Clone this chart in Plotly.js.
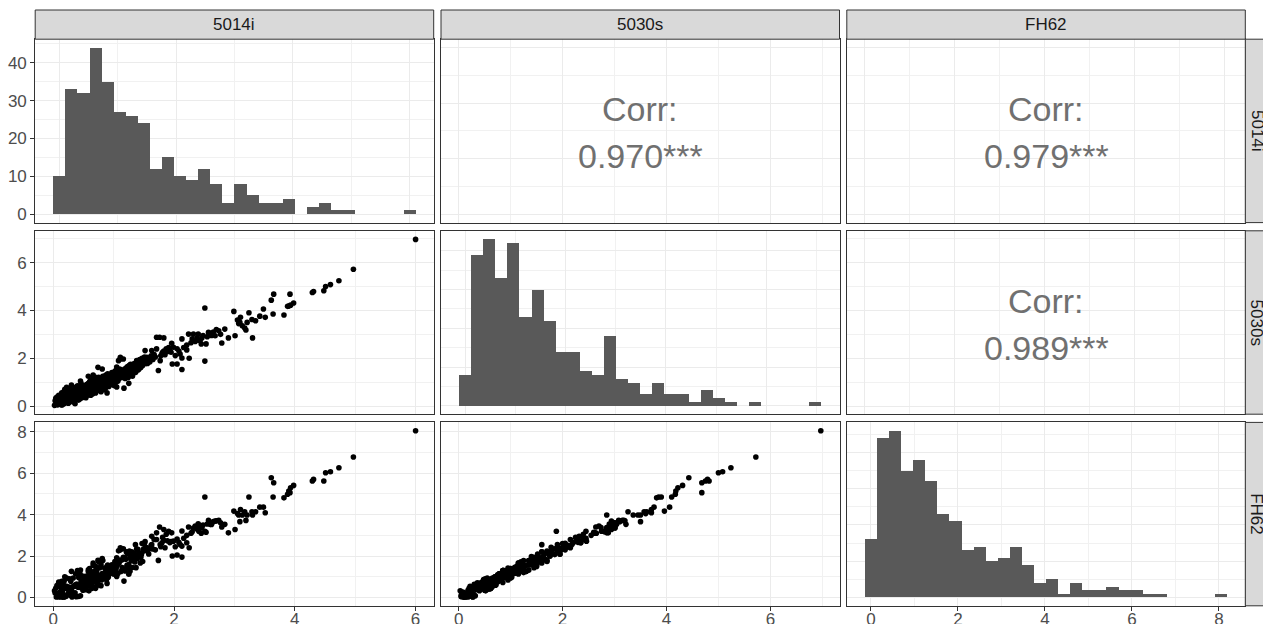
<!DOCTYPE html>
<html><head><meta charset="utf-8">
<script src="https://cdn.plot.ly/plotly-3.0.1.min.js"></script>
<style>html,body{margin:0;padding:0;background:#fff;overflow:hidden}#chart{width:1263px;height:624px}</style>
</head><body><div id="chart"></div>
<script>
// ---------------- data ----------------
const varNames = ['5014i', '5030s', 'FH62'];

const v5014i = [
 0.02,0.03,0.05,0.06,0.07,0.08,0.09,0.10,0.04,0.08,
 0.11,0.12,0.12,0.13,0.14,0.15,0.15,0.16,0.17,0.18,0.18,0.19,0.20,0.20,0.21,0.22,0.22,0.23,0.24,0.24,0.25,0.26,0.26,0.27,0.28,0.28,0.29,0.29,0.30,0.30,0.31,0.13,0.17,
 0.32,0.33,0.33,0.34,0.35,0.35,0.36,0.37,0.38,0.38,0.39,0.40,0.40,0.41,0.42,0.42,0.43,0.44,0.44,0.45,0.46,0.46,0.47,0.48,0.48,0.49,0.50,0.50,0.51,0.52,0.36,0.45,
 0.52,0.53,0.53,0.54,0.55,0.55,0.56,0.56,0.57,0.58,0.58,0.59,0.59,0.60,0.60,0.61,0.61,0.62,0.62,0.63,0.63,0.64,0.64,0.65,0.65,0.66,0.66,0.67,0.67,0.68,0.68,0.69,0.69,0.70,0.70,0.71,0.71,0.72,0.54,0.58,0.62,0.66,0.70,0.60,
 0.73,0.73,0.74,0.75,0.75,0.76,0.77,0.77,0.78,0.79,0.79,0.80,0.80,0.81,0.82,0.82,0.83,0.84,0.84,0.85,0.86,0.86,0.87,0.88,0.88,0.89,0.90,0.90,0.91,0.92,0.92,0.93,0.74,0.81,0.89,
 0.94,0.95,0.96,0.96,0.97,0.98,0.99,1.00,1.00,1.01,1.02,1.03,1.04,1.04,1.05,1.06,1.07,1.08,1.08,1.09,1.10,1.11,1.12,1.13,1.14,1.05,1.11,
 1.15,1.16,1.17,1.17,1.18,1.19,1.20,1.21,1.22,1.22,1.23,1.24,1.25,1.26,1.27,1.27,1.28,1.29,1.30,1.31,1.32,1.33,1.34,1.16,1.25,1.33,
 1.35,1.36,1.37,1.38,1.39,1.40,1.41,1.42,1.43,1.44,1.45,1.46,1.47,1.48,1.49,1.50,1.51,1.52,1.53,1.54,1.55,1.36,1.44,1.52,
 1.56,1.58,1.60,1.62,1.63,1.63,1.65,1.67,1.69,1.71,1.71,1.74,
 1.76,1.77,1.78,1.80,1.81,1.83,1.83,1.85,1.87,1.89,1.91,1.93,1.95,1.96,1.97,
 1.99,2.02,2.05,2.05,2.08,2.10,2.13,2.13,2.13,2.16,
 2.21,2.21,2.24,2.25,2.28,2.30,2.32,2.35,2.38,
 2.40,2.41,2.43,2.45,2.46,2.48,2.51,2.51,2.53,2.55,2.57,2.58,
 2.60,2.62,2.65,2.68,2.70,2.74,2.77,2.79,
 2.84,2.90,2.99,
 3.01,3.05,3.07,3.09,3.10,3.13,3.17,3.19,
 3.21,3.24,3.29,3.30,3.35,
 3.42,3.48,3.51,3.61,
 3.64,3.65,3.82,
 3.88,3.90,3.92,3.93,3.98,
 4.29,4.31,
 4.48,4.51,4.59,
 4.73,
 4.97,
 6.00
];

const v5030s = [
 0.03,0.22,0.10,0.38,0.05,0.28,0.45,0.15,0.32,0.12,
 0.08,0.30,0.45,0.12,0.55,0.25,0.05,0.40,0.18,0.62,0.10,0.70,0.22,0.42,0.15,0.35,0.78,0.48,0.20,0.58,0.12,0.45,0.28,0.52,0.75,0.30,0.18,0.65,0.40,0.88,0.27,0.05,0.20,
 0.30,0.55,0.22,0.65,0.38,0.15,0.58,0.78,0.28,0.48,0.62,0.35,0.85,0.45,0.25,0.70,0.40,0.55,0.80,0.32,0.60,0.95,0.44,0.36,0.72,0.50,0.42,0.85,0.60,0.48,0.10,1.05,
 0.60,0.42,0.80,0.65,0.50,0.90,0.70,0.45,0.85,0.58,0.95,0.52,0.75,0.88,0.60,0.48,1.05,0.72,0.92,0.55,1.10,0.78,0.62,0.95,0.50,0.85,1.15,0.68,1.00,0.58,1.05,0.75,0.90,0.62,1.20,0.95,0.70,0.85,0.35,1.25,0.45,1.30,0.55,1.00,
 0.85,0.65,1.00,0.75,1.20,0.90,0.70,1.10,0.82,0.60,1.15,0.95,0.72,1.05,0.78,1.25,0.88,1.00,0.68,1.18,0.92,0.75,1.30,0.98,0.80,1.12,0.86,1.35,1.02,0.82,1.20,1.05,1.62,1.55,0.55,
 1.10,0.90,1.25,1.00,1.40,1.08,0.95,1.35,1.15,0.85,1.45,1.20,1.00,1.50,1.63,1.25,1.05,1.90,1.35,1.15,1.55,2.04,1.25,1.40,1.20,0.80,1.97,
 1.25,1.45,0.75,1.35,1.55,1.15,1.40,1.60,1.25,1.50,1.65,1.20,1.45,1.70,1.30,1.55,1.75,1.35,1.60,1.25,1.70,1.45,1.78,1.97,0.95,1.49,
 1.55,1.60,1.45,1.90,1.65,1.80,1.52,1.75,1.95,1.69,1.62,1.85,2.00,1.70,1.88,1.95,2.05,2.32,1.78,2.00,2.04,1.40,1.60,1.90,
 1.78,1.95,1.85,2.10,2.32,2.04,1.95,2.15,2.05,2.88,2.39,1.49,
 2.88,1.90,2.10,2.20,2.25,2.85,2.30,2.15,2.40,2.28,2.45,2.35,2.25,2.63,1.76,
 2.46,2.11,1.76,2.40,2.30,2.18,2.81,2.01,1.53,2.45,
 2.35,2.55,3.01,2.00,2.65,2.81,3.01,2.70,2.85,
 3.01,2.75,2.74,2.60,2.85,2.95,4.10,1.88,2.60,2.90,3.08,3.00,
 3.04,2.95,3.10,2.94,3.20,3.15,3.00,2.64,
 3.22,2.85,3.96,
 2.94,3.60,3.45,3.50,3.71,3.36,3.26,3.18,
 3.50,3.90,3.62,2.85,3.57,
 3.76,4.06,3.71,4.43,
 3.85,4.68,3.81,
 4.17,4.18,4.68,4.22,4.31,
 4.75,4.79,
 4.82,5.00,5.08,
 5.24,
 5.72,
 6.97
];

const vFH62 = [
 0.32,0.21,0.02,0.58,0.06,0.19,0.74,0.03,0.44,0.04,
 0.26,0.64,0.49,0.02,0.78,0.30,0.03,0.68,0.02,0.80,0.02,1.00,0.54,0.45,0.05,0.54,0.94,0.43,0.44,0.40,0.20,0.44,0.50,0.90,0.85,0.11,0.34,0.78,0.33,1.26,0.02,0.12,0.14,
 0.52,0.94,0.21,0.53,0.58,0.18,0.55,1.14,0.04,0.64,0.64,0.58,1.30,0.49,0.05,0.96,0.48,0.51,1.16,0.08,0.78,1.04,0.69,0.71,0.81,0.35,0.62,1.02,0.57,0.78,0.22,1.32,
 0.42,0.56,0.86,0.94,0.88,1.03,0.59,0.66,1.02,0.55,1.34,0.32,0.96,0.96,0.88,0.86,1.21,0.61,1.22,0.66,1.17,1.14,0.44,1.20,0.50,1.18,1.66,0.77,0.95,0.82,1.26,0.75,1.28,0.44,1.50,1.04,1.00,1.30,0.37,1.25,0.66,1.56,0.51,1.40,
 0.72,0.84,1.10,1.06,1.72,1.03,0.59,1.44,0.98,0.57,1.58,0.84,0.92,1.16,1.10,1.78,1.01,0.95,0.94,1.42,0.95,1.10,1.26,1.24,0.86,1.50,1.31,1.57,0.97,1.10,1.44,1.36,1.80,1.88,0.68,
 1.17,1.28,1.20,1.26,1.58,1.46,1.42,1.57,1.13,1.14,1.74,1.29,1.40,1.50,1.91,1.56,1.16,2.25,1.78,1.66,1.81,2.40,1.25,1.80,1.44,1.01,2.30,
 1.35,1.94,0.79,1.32,1.92,1.28,1.84,2.20,1.45,1.55,2.10,1.44,1.59,2.24,1.26,1.92,2.00,1.78,2.20,1.45,1.79,1.86,2.14,2.35,1.12,1.80,
 1.71,2.55,1.44,2.34,1.88,2.32,2.10,2.05,2.09,2.15,1.94,2.07,2.60,1.74,2.32,2.24,2.62,2.70,2.42,2.35,2.40,1.98,1.67,2.40,
 2.25,2.10,2.35,2.52,2.95,2.55,2.34,2.80,2.30,3.12,2.80,1.79,
 3.40,2.55,2.45,2.64,2.90,3.28,2.76,2.40,3.05,2.74,3.20,2.65,2.70,3.12,2.00,
 2.72,2.45,2.05,2.82,2.66,2.56,3.21,2.48,1.95,2.86,
 2.64,3.00,3.40,2.40,3.10,3.17,3.35,3.45,3.30,
 3.56,3.20,3.37,3.10,3.37,3.50,4.85,3.20,3.15,3.55,3.72,3.60,
 3.53,3.52,3.66,3.69,3.70,3.72,3.61,3.40,
 3.53,3.12,4.17,
 3.28,4.05,3.98,3.66,4.25,3.98,4.14,3.72,
 3.98,4.85,4.14,3.98,4.14,
 4.36,4.36,4.09,5.78,
 4.85,5.54,4.81,
 4.98,5.14,5.06,5.30,5.41,
 5.62,5.70,
 5.62,6.02,6.07,
 6.26,
 6.78,
 8.05
];

// histogram counts (30 bins, centred on the data minimum)
const hist5014iCounts = [10,33,32,44,35,27,26,24,12,15,10,9,12,8,3,8,5,3,3,4,0,2,3,1,1,0,0,0,0,1];
const hist5030sCounts = [8,39,43,33,42,23,30,22,14,14,9,8,18,7,6,3,6,3,3,1,4,2,1,0,1,0,0,0,0,1];
const histFH62Counts  = [16,44,46,35,38,32,23,21,13,14,10,11,14,9,4,5,1,4,2,2,3,2,2,1,1,0,0,0,0,1];
const histBinWidths = [0.2069, 0.2407, 0.2776];

// correlation labels: pairs (row, col) in the upper triangle
const corrPairs  = [[0,1],[0,2],[1,2]];
const corrLabels = ['0.970***', '0.979***', '0.989***'];

// ---------------- layout ----------------
const W = 1263, H = 624;
const colL = [35.2, 441.0, 846.8], PW = 398.5;
const rowT = [39.2, 230.8, 422.4], PH = 183.4;
const stripSize = 29.2;

const valueRanges = [[-0.30, 6.30], [-0.34, 7.33], [-0.4025, 8.4525]];
const histXRanges = [[-0.414, 6.414], [-0.481, 7.461], [-0.555, 8.605]];
const countRanges = [[-2.2, 46.2], [-2.15, 45.15], [-2.3, 48.3]];

const values = [v5014i, v5030s, vFH62];
const counts = [hist5014iCounts, hist5030sCounts, histFH62Counts];

const FONT = 'Liberation Sans, Arial, Helvetica, sans-serif';
const px2x = p => p / W;
const px2y = p => 1 - p / H;

function makeAxis(domain, range, isCount, showLabels, isX) {
  const ax = {
    domain: domain, range: range, autorange: false, fixedrange: true,
    showgrid: true, gridcolor: '#ebebeb', gridwidth: 1,
    tick0: 0, dtick: isCount ? 10 : 2,
    minor: {tick0: 0, dtick: isCount ? 5 : 1, showgrid: true, gridcolor: '#f1f1f1', gridwidth: 1, ticks: ''},
    zeroline: false, showline: true, mirror: true, linecolor: '#333333', linewidth: 1,
    ticks: showLabels ? 'outside' : '', ticklen: 4, tickwidth: 1, tickcolor: '#333333',
    showticklabels: showLabels,
    tickfont: {family: FONT, size: 17, color: '#4d4d4d'}
  };
  if (isX && showLabels) ax.ticklabelstandoff = -6;
  return ax;
}

const layout = {
  width: W, height: H, margin: {l: 0, r: 0, t: 0, b: 0, pad: 0},
  paper_bgcolor: '#ffffff', plot_bgcolor: '#ffffff', showlegend: false,
  bargap: 0, shapes: [], annotations: [], font: {family: FONT}
};
const traces = [];

for (let r = 0; r < 3; r++) {
  for (let c = 0; c < 3; c++) {
    const k = r * 3 + c + 1;
    const xa = 'xaxis' + (k === 1 ? '' : k), ya = 'yaxis' + (k === 1 ? '' : k);
    const xr = 'x' + (k === 1 ? '' : k), yr = 'y' + (k === 1 ? '' : k);
    const diag = r === c;
    const xDom = [px2x(colL[c]), px2x(colL[c] + PW)];
    const yDom = [px2y(rowT[r] + PH), px2y(rowT[r])];
    layout[xa] = makeAxis(xDom, diag ? histXRanges[c] : valueRanges[c], false, r === 2, true);
    layout[xa].anchor = yr;
    layout[ya] = makeAxis(yDom, diag ? countRanges[r] : valueRanges[r], diag, c === 0, false);
    layout[ya].anchor = xr;

    if (diag) {
      const w = histBinWidths[c];
      traces.push({
        type: 'bar', xaxis: xr, yaxis: yr,
        x: counts[c].map((_, i) => i * w), y: counts[c], width: w,
        marker: {color: '#595959', line: {width: 0}}, hoverinfo: 'skip'
      });
    } else if (r > c) {
      traces.push({
        type: 'scatter', mode: 'markers', xaxis: xr, yaxis: yr,
        x: values[c], y: values[r],
        marker: {color: '#000000', size: 5.6, line: {width: 0}}, hoverinfo: 'skip'
      });
    } else {
      traces.push({type: 'scatter', mode: 'markers', xaxis: xr, yaxis: yr, x: [], y: [], hoverinfo: 'skip'});
      const idx = corrPairs.findIndex(p => p[0] === r && p[1] === c);
      const cx = px2x(colL[c] + PW / 2), cy = rowT[r] + PH / 2;
      layout.annotations.push({xref: 'paper', yref: 'paper', x: cx, y: px2y(cy - 22), text: 'Corr:',
        showarrow: false, xanchor: 'center', yanchor: 'middle', font: {family: FONT, size: 34, color: '#707070'}});
      layout.annotations.push({xref: 'paper', yref: 'paper', x: cx, y: px2y(cy + 25.5), text: corrLabels[idx],
        showarrow: false, xanchor: 'center', yanchor: 'middle', font: {family: FONT, size: 34, color: '#707070'}});
    }
  }
}

// strips
for (let i = 0; i < 3; i++) {
  layout.shapes.push({type: 'rect', xref: 'paper', yref: 'paper', layer: 'above',
    x0: px2x(colL[i]), x1: px2x(colL[i] + PW), y0: px2y(rowT[0]), y1: px2y(rowT[0] - stripSize),
    fillcolor: '#d9d9d9', line: {color: '#333333', width: 1}});
  layout.annotations.push({xref: 'paper', yref: 'paper', x: px2x(colL[i] + PW / 2), y: px2y(rowT[0] - stripSize / 2),
    text: varNames[i], showarrow: false, xanchor: 'center', yanchor: 'middle',
    font: {family: FONT, size: 17, color: '#1a1a1a'}});
  layout.shapes.push({type: 'rect', xref: 'paper', yref: 'paper', layer: 'above',
    x0: px2x(colL[2] + PW), x1: px2x(colL[2] + PW + stripSize), y0: px2y(rowT[i] + PH), y1: px2y(rowT[i]),
    fillcolor: '#d9d9d9', line: {color: '#333333', width: 1}});
  layout.annotations.push({xref: 'paper', yref: 'paper', x: px2x(colL[2] + PW + stripSize / 2 - 3), y: px2y(rowT[i] + PH / 2),
    text: varNames[i], textangle: 90, showarrow: false, xanchor: 'center', yanchor: 'middle',
    font: {family: FONT, size: 17, color: '#1a1a1a'}});
}

Plotly.newPlot('chart', traces, layout, {displayModeBar: false, staticPlot: true});
</script>
</body></html>
